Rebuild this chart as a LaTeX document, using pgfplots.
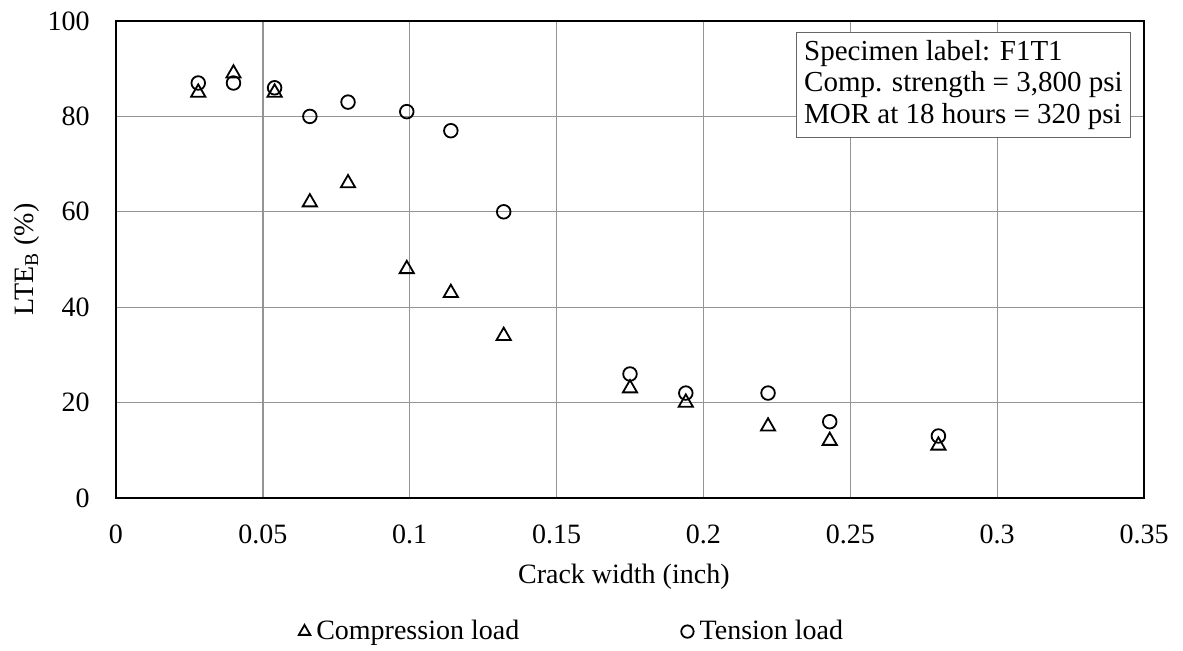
\documentclass[border=0pt]{standalone}
\usepackage{fontspec}
\setmainfont{Liberation Serif}
\usepackage{pgfplots}
\pgfplotsset{compat=1.18}
\pgfplotsset{
  legtri/.style={legend image code/.code={\draw[##1, mark size=3.3pt] plot coordinates {(0cm,0cm)};}},
  legcirc/.style={legend image code/.code={\draw[##1, mark size=3.1pt] plot coordinates {(0cm,0cm)};}},
}
\begin{document}
\begin{tikzpicture}[font=\fontsize{14}{16.8}\selectfont]
\begin{axis}[
  scale only axis, width=514pt, height=238.5pt,
  xmin=0, xmax=0.35, ymin=0, ymax=100,
  xtick={0,0.05,0.1,0.15,0.2,0.25,0.3,0.35},
  ytick={0,20,40,60,80,100},
  grid=major,
  major grid style={draw=black!42, line width=0.65pt},
  axis line style={line width=1pt},
  major tick length=0pt,
  /pgf/number format/assume math mode=true,
  xticklabel style={/pgf/number format/fixed, /pgf/number format/precision=2,
     anchor=center, inner sep=0pt, yshift=-18pt},
  yticklabel style={anchor=east, inner sep=0pt, xshift=-13pt},
  xlabel={Crack width (inch)},
  ylabel={LTE\textsubscript{B} (\%)},
  xlabel style={at={(rel axis cs:0.494,-0.1648)}, anchor=center},
  ylabel style={at={(rel axis cs:-0.0866,0.5)}, anchor=center},
  legend columns=2,
  legend style={at={(rel axis cs:0.4455,-0.280)}, anchor=center, draw=none,
     fill=none, inner sep=0pt,
     /tikz/every even column/.append style={column sep=78pt},
     nodes={inner xsep=3pt}},
  legend cell align=left,
]
\addplot[only marks, mark=triangle, mark size=4.1pt, black, line width=0.9pt, legtri]
  coordinates {
  (0.028,85) (0.040,89) (0.054,85) (0.066,62) (0.079,66) (0.099,48)
  (0.114,43) (0.132,34) (0.175,23) (0.194,20) (0.222,15) (0.243,12) (0.280,11)
  };
\addlegendentry{Compression load}
\addplot[only marks, mark=o, mark size=3.4pt, black, line width=0.9pt, legcirc]
  coordinates {
  (0.028,87) (0.040,87) (0.054,86) (0.066,80) (0.079,83) (0.099,81)
  (0.114,77) (0.132,60) (0.175,26) (0.194,22) (0.222,22) (0.243,16) (0.280,13)
  };
\addlegendentry{Tension load}
\node[draw=black!60, line width=0.6pt, fill=white, align=left, anchor=north east,
  inner xsep=3.9pt, inner ysep=4pt, font=\fontsize{14.5}{15.8}\selectfont]
  at (rel axis cs:1,1) [xshift=-6.5pt, yshift=-5.3pt]
  {Specimen label: F1T1\\Comp. strength = 3,800 psi\\MOR at 18 hours = 320 psi};
\coordinate (O) at (rel axis cs:0,0);
\end{axis}
\pgfresetboundingbox
\path (O) ++(-58pt,-76pt) rectangle ++(591.5pt,325pt);
\end{tikzpicture}
\end{document}
